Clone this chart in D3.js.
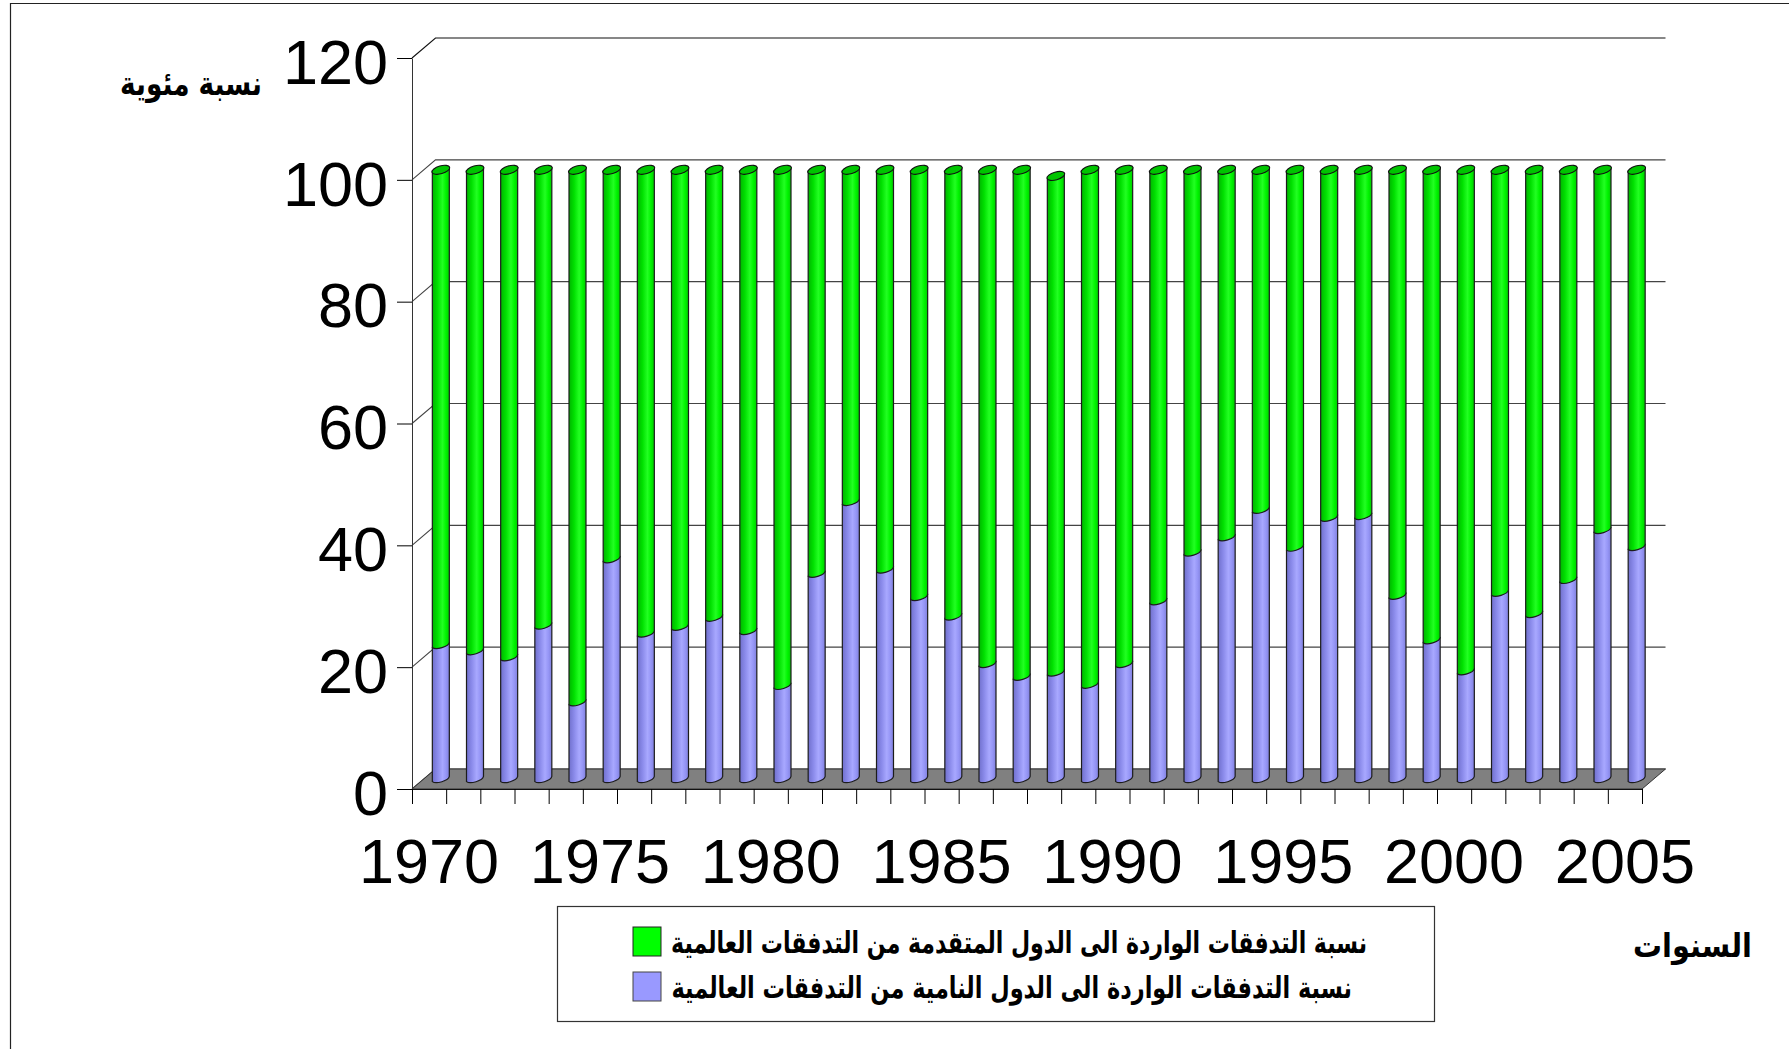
<!DOCTYPE html>
<html>
<head>
<meta charset="utf-8">
<script src="https://cdn.jsdelivr.net/npm/d3@7"></script>
<style>
html, body { margin: 0; padding: 0; background: #fff; }
svg { display: block; }
.num { font-family: "Liberation Sans", Arial, sans-serif; font-size: 63px; fill: #000; }
.ar { font-family: "DejaVu Sans", sans-serif; font-weight: bold; fill: #000; direction: rtl; }
</style>
</head>
<body>
<div id="chart"></div>
<script>
// Data
var years = [1970,1971,1972,1973,1974,1975,1976,1977,1978,1979,1980,1981,1982,1983,1984,1985,1986,1987,
             1988,1989,1990,1991,1992,1993,1994,1995,1996,1997,1998,1999,2000,2001,2002,2003,2004,2005];
var developing = [22,21,20,25.2,12.6,36.1,23.9,25,26.5,24.3,15.3,33.7,45.5,34.4,29.9,26.7,18.9,16.8,
                  17.5,15.5,18.9,29.2,37.2,39.7,44.2,38,42.9,43.2,30.1,22.8,17.7,30.6,27.1,32.7,40.9,38.1];
var developed = [78,79,80,74.8,87.4,63.9,76.1,75,73.5,75.7,84.7,66.3,54.5,65.6,70.1,73.3,81.1,83.2,
                 81.5,84.5,81.1,70.8,62.8,60.3,55.8,62,57.1,56.8,69.9,77.2,82.3,69.4,72.9,67.3,59.1,61.9];
var yTicks = [0,20,40,60,80,100,120];
var xLabels = [1970,1975,1980,1985,1990,1995,2000,2005];
var legendLabels = ["نسبة التدفقات الواردة الى الدول المتقدمة من التدفقات العالمية",
                    "نسبة التدفقات الواردة الى الدول النامية من التدفقات العالمية"];
var yTitle = "نسبة مئوية";
var xTitle = "السنوات";

// Setup
var width = 1789, height = 1049;
var left = 412, right = 1642, bottom = 789, top120 = 58;
var depthX = 23.5, depthY = 20;
var barW = 17;

var svg = d3.select("#chart").append("svg").attr("width", width).attr("height", height);

var defs = svg.append("defs");
function cylGradient(id, stops) {
  var g = defs.append("linearGradient").attr("id", id);
  stops.forEach(function(s) {
    g.append("stop").attr("offset", s[0]).attr("stop-color", s[1]);
  });
}
cylGradient("blueCyl", [[0,"#7070cc"],[0.3,"#8a8aea"],[0.6,"#a8a8ff"],[0.8,"#9696f6"],[1,"#8080dc"]]);
cylGradient("greenCyl", [[0,"#00b400"],[0.3,"#00e000"],[0.6,"#22ff22"],[0.8,"#00f400"],[1,"#00cc00"]]);

// page border
svg.append("path").attr("d", "M10.5," + height + "V3.5H" + width)
  .attr("fill", "none").attr("stroke", "#222").attr("stroke-width", 1.2);

// scales
var y = d3.scaleLinear().domain([0, 120]).range([bottom, top120]);
var x = d3.scaleBand().domain(years).range([left, right]);
var xEdge = d3.scaleLinear().domain([0, years.length]).range([left, right]);

// wall gridlines
var grid = svg.append("g");
yTicks.forEach(function(t) {
  grid.append("path")
    .attr("d", d3.line()([[left, y(t)], [left + depthX, y(t) - depthY], [right + depthX, y(t) - depthY]]))
    .attr("fill", "none")
    .attr("stroke", t == 120 ? "#111" : "#444")
    .attr("stroke-width", 1.1);
});

// floor
svg.append("path")
  .attr("d", d3.line()([[left, bottom], [right, bottom], [right + depthX, bottom - depthY], [left + depthX, bottom - depthY]]) + "Z")
  .attr("fill", "#808080")
  .attr("stroke", "#333");

// axes
var yAxis = svg.append("g").attr("transform", "translate(" + left + ",0)")
  .call(d3.axisLeft(y).tickValues(yTicks).tickSize(15).tickSizeOuter(0).tickPadding(9));
yAxis.selectAll("text").attr("class", "num").attr("font-size", null).attr("font-family", null).attr("y", 5);
yAxis.select(".domain").attr("stroke", "#333");

var xAxis = svg.append("g").attr("transform", "translate(0," + bottom + ")")
  .call(d3.axisBottom(xEdge).ticks(0).tickValues(d3.range(years.length + 1)).tickSize(15).tickSizeOuter(0).tickFormat(""));
xAxis.select(".domain").attr("stroke", "#111");

var xLabelAxis = svg.append("g").attr("transform", "translate(0," + bottom + ")")
  .call(d3.axisBottom(x).tickValues(xLabels).tickSize(0).tickPadding(49).tickFormat(d3.format("d")));
xLabelAxis.select(".domain").remove();
xLabelAxis.selectAll("text").attr("class", "num").attr("font-size", null).attr("font-family", null);

// cylinders, stacked, centred half way back on the floor
var offX = depthX / 2, offY = depthY / 2;
var r = barW / 2, slant = 2.6, rx = 9.2, ry = 3.9, rot = -16;

function body(cx, y0, y1) {
  return "M" + (cx - r) + "," + (y1 + slant) +
    "L" + (cx - r) + "," + (y0 + slant) +
    "A" + rx + "," + ry + " " + rot + " 0 0 " + (cx + r) + "," + (y0 - slant) +
    "L" + (cx + r) + "," + (y1 - slant) +
    "A" + rx + "," + ry + " " + rot + " 0 0 " + (cx - r) + "," + (y1 + slant) + "Z";
}

var bars = svg.append("g").selectAll("g").data(years).join("g");

bars.each(function(yr, i) {
  var g = d3.select(this);
  var cx = x(yr) + x.bandwidth() / 2 + offX;
  var yA = y(0) - offY, yB = y(developing[i]) - offY, yC = y(developing[i] + developed[i]) - offY;
  g.append("path").attr("d", body(cx, yA, yB))
    .attr("fill", "url(#blueCyl)").attr("stroke", "#1c1c1c").attr("stroke-width", 1.2);
  g.append("path").attr("d", body(cx, yB, yC))
    .attr("fill", "url(#greenCyl)").attr("stroke", "#1c1c1c").attr("stroke-width", 1.2);
  g.append("ellipse")
    .attr("rx", rx).attr("ry", ry)
    .attr("transform", "translate(" + cx + "," + yC + ") rotate(" + rot + ")")
    .attr("fill", "#00c400").attr("stroke", "#111").attr("stroke-width", 1.1);
});

// fit arabic text between two x positions
function arText(txt, x0, x1, yBase, size) {
  var t = svg.append("text").attr("class", "ar").attr("font-size", size)
    .attr("x", x1).attr("y", yBase).attr("text-anchor", "start").text(txt);
  var w = t.node().getComputedTextLength();
  t.attr("transform", "translate(" + x1 + "," + yBase + ") scale(" + ((x1 - x0) / w) + ",1) translate(" + (-x1) + "," + (-yBase) + ")");
  return t;
}

// legend
svg.append("rect").attr("x", 557.5).attr("y", 906.5).attr("width", 877).attr("height", 115)
  .attr("fill", "#fff").attr("stroke", "#333").attr("stroke-width", 1.2);
svg.append("rect").attr("x", 633).attr("y", 927).attr("width", 28).attr("height", 29)
  .attr("fill", "#00ff00").attr("stroke", "#222");
svg.append("rect").attr("x", 633).attr("y", 972).attr("width", 28).attr("height", 29)
  .attr("fill", "#9999ff").attr("stroke", "#444");
arText(legendLabels[0], 671, 1367, 953, 30);
arText(legendLabels[1], 671, 1352, 998, 30);

// axis titles
arText(yTitle, 120, 262, 95, 33);
arText(xTitle, 1633, 1752, 957, 33);
</script>
</body>
</html>
